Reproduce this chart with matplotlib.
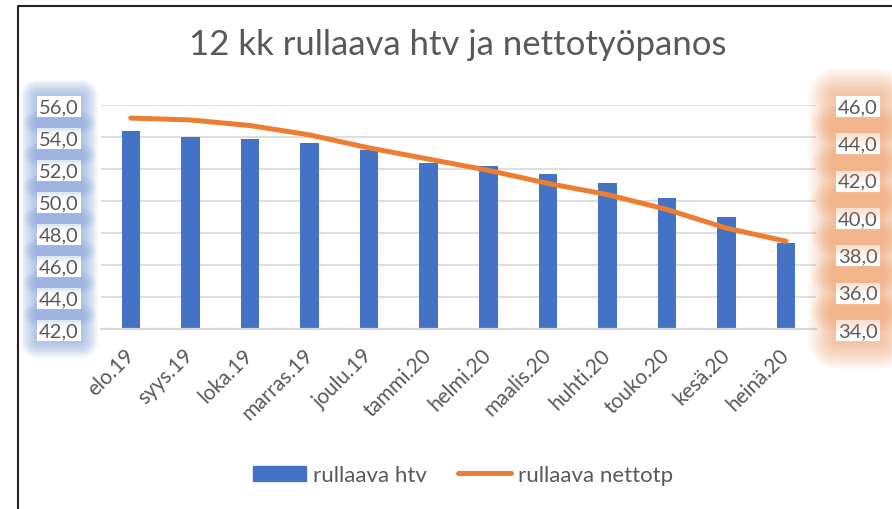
import matplotlib
matplotlib.use("Agg")
from matplotlib import pyplot as plt
import matplotlib.patheffects as pe
from matplotlib.lines import Line2D
from matplotlib.patches import Patch
import numpy as np

plt.rcParams["font.family"] = ["Lato", "DejaVu Sans"]

months = ["elo.19", "syys.19", "loka.19", "marras.19", "joulu.19", "tammi.20",
          "helmi.20", "maalis.20", "huhti.20", "touko.20", "kesä.20", "heinä.20"]
htv = [54.4, 54.0, 53.9, 53.6, 53.2, 52.4, 52.2, 51.7, 51.1, 50.2, 49.0, 47.4]
nettotp = [45.3, 45.2, 44.9, 44.4, 43.7, 43.1, 42.5, 41.8, 41.2, 40.4, 39.4, 38.7]

left_ticks = [42, 44, 46, 48, 50, 52, 54, 56]
right_ticks = [34, 36, 38, 40, 42, 44, 46]

blue = "#4472C4"
orange = "#ED7D31"
txt = "#595959"

fig = plt.figure(figsize=(8.92, 5.1), dpi=100)
ax = fig.add_axes([101 / 892, 1 - 330 / 510, 715 / 892, 224 / 510])
ax2 = ax.twinx()

x = np.arange(len(months))
ax.bar(x, htv, width=0.31, color=blue, zorder=2)
ax2.plot(x, nettotp, color=orange, lw=3.6, solid_capstyle="round", zorder=3)

ax.set_xlim(-0.5, len(months) - 0.5)
ax.set_ylim(42, 56)
ax2.set_ylim(34, 46)
ax.set_yticks(left_ticks)
ax2.set_yticks(right_ticks)
ax.set_yticklabels([f"{v:.1f}".replace(".", ",") for v in left_ticks])
ax2.set_yticklabels([f"{v:.1f}".replace(".", ",") for v in right_ticks])
ax.set_xticks(x)
ax.set_xticklabels(months, rotation=45, ha="right", va="center", rotation_mode="anchor")
ax.tick_params(axis="x", length=0, pad=16, labelsize=15, labelcolor=txt)

ax.grid(axis="y", color="#d9d9d9", lw=1.2, zorder=0)
ax.set_axisbelow(True)
for a in (ax, ax2):
    for s in a.spines.values():
        s.set_visible(False)
ax.spines["bottom"].set_visible(True)
ax.spines["bottom"].set_color("#d9d9d9")
ax.spines["bottom"].set_linewidth(1.6)

ax.tick_params(axis="y", length=0, pad=16, labelsize=14.5, labelcolor=txt)
ax2.tick_params(axis="y", length=0, pad=16, labelsize=14.5, labelcolor=txt)


def glow(labels, color, widths, alpha):
    effects = [pe.Stroke(linewidth=w, foreground=color, alpha=alpha, joinstyle="round")
               for w in widths]
    for lab in labels:
        lab.set_bbox(dict(boxstyle="square,pad=0.1", fc="white", ec="none"))
        lab.get_bbox_patch().set_path_effects(effects + [pe.Normal()])


# soft glow behind the value labels
glow(ax.get_yticklabels(), "#6f93d6", range(24, 1, -2), 0.06)
glow(ax2.get_yticklabels(), "#f19a5c", range(40, 1, -3), 0.055)

fig.text(0.513, 1 - 55 / 510, "12 kk rullaava htv ja nettotyöpanos",
         ha="center", va="baseline", fontsize=25, color=txt)

handles = [Patch(color=blue, label="rullaava htv"),
           Line2D([], [], color=orange, lw=3.6, solid_capstyle="round", label="rullaava nettotp")]
fig.legend(handles=handles, loc="center", bbox_to_anchor=(463 / 892, 1 - 476 / 510),
           ncol=2, frameon=False, fontsize=16, labelcolor=txt,
           handlelength=2.4, handleheight=0.65, handletextpad=0.3, columnspacing=1.4)

# chart frame (cut at right and bottom)
fig.add_artist(Line2D([18 / 892, 18 / 892, 1], [0, 1 - 7 / 510, 1 - 7 / 510],
                      transform=fig.transFigure, color="#222222", lw=1.5))

plt.savefig("out.png", dpi=100)
